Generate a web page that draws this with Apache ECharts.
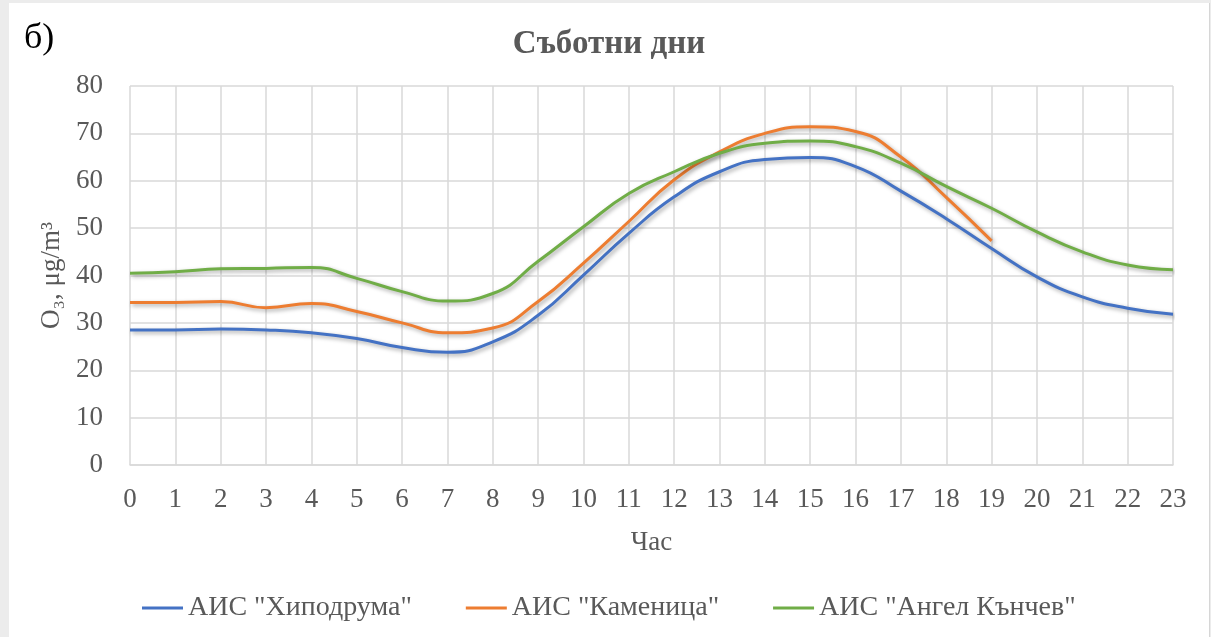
<!DOCTYPE html>
<html><head><meta charset="utf-8">
<script src="https://cdn.jsdelivr.net/npm/echarts@6/dist/echarts.min.js"></script>
<style>
html,body{margin:0;padding:0;background:#ececec;width:1211px;height:637px;overflow:hidden;}
#c{position:absolute;left:9px;top:3px;width:1200px;height:634px;background:#fff;border-right:1px solid #d6d6d6;}
#lbl{position:absolute;left:24px;top:18px;font-family:"Liberation Serif",serif;font-size:36px;line-height:1;color:#000;}
</style></head>
<body>
<div id="c"></div>
<div id="lbl">б)</div>
<script>
const hours = ['0','1','2','3','4','5','6','7','8','9','10','11','12','13','14','15','16','17','18','19','20','21','22','23'];
const hipodruma = [28.5,28.5,28.7,28.5,27.9,26.7,24.8,23.8,26.0,31.6,40.1,48.9,56.6,61.9,64.5,64.9,63.0,57.8,52.0,45.7,39.7,35.5,33.1,31.8];
const kamenitsa = [34.3,34.3,34.5,33.2,34.1,32.4,30.0,27.9,28.9,34.5,42.6,51.4,60.2,66.1,70.0,71.4,70.4,65.0,56.5,47.3,null,null,null,null];
const kanchev = [40.5,40.8,41.4,41.5,41.7,39.4,36.6,34.6,36.2,43.0,50.3,57.3,61.9,65.8,67.9,68.4,67.2,63.7,58.8,54.2,49.2,45.0,42.2,41.2];
const names = ['АИС "Хиподрума"','АИС "Каменица"','АИС "Ангел Кънчев"'];
const colors = ['#4472c4','#ed7d31','#70ad47'];
const yTicks = [0,10,20,30,40,50,60,70,80];

const font = '"Liberation Serif", "Times New Roman", serif';
const chart = echarts.init(document.getElementById('c'));
function mk(name, data, color){
  return {name, type:'line', data, smooth:0.5, symbol:'none', connectNulls:false,
    lineStyle:{color, width:3, shadowColor:'rgba(0,0,0,0.35)', shadowBlur:4, shadowOffsetX:2, shadowOffsetY:2},
    itemStyle:{color}};
}
chart.setOption({
  animation:false,
  textStyle:{fontFamily:font},
  title:{text:'Съботни дни', left:'center', top:20,
    textStyle:{fontFamily:font, fontSize:33, fontWeight:'bold', color:'#595959'}},
  legend:{top:586, left:128, itemGap:54, itemWidth:41, itemHeight:3,
    icon:'rect',
    textStyle:{fontFamily:font, fontSize:28, color:'#595959'},
    data:names},
  grid:{left:121, right:36, top:83, bottom:172},
  xAxis:{type:'category', data:hours, boundaryGap:false,
    name:'Час', nameLocation:'middle', nameGap:64,
    nameTextStyle:{fontFamily:font, fontSize:27, color:'#595959'},
    axisLine:{lineStyle:{color:'#d9d9d9', width:1.5}},
    axisTick:{show:false},
    axisLabel:{fontFamily:font, fontSize:27, color:'#595959', margin:21},
    splitLine:{show:true, lineStyle:{color:'#d9d9d9', width:1.5}}},
  yAxis:{type:'value', min:yTicks[0], max:yTicks[yTicks.length-1], interval:10,
    name:'O₃, μg/m³', nameLocation:'middle', nameGap:62,
    nameTextStyle:{fontFamily:font, fontSize:27, color:'#595959'},
    axisLine:{show:false}, axisTick:{show:false},
    axisLabel:{fontFamily:font, fontSize:27, color:'#595959', margin:27},
    splitLine:{lineStyle:{color:'#d9d9d9', width:1.5}}},
  series:[mk(names[0],hipodruma,colors[0]), mk(names[1],kamenitsa,colors[1]), mk(names[2],kanchev,colors[2])]
});
</script>
</body></html>
